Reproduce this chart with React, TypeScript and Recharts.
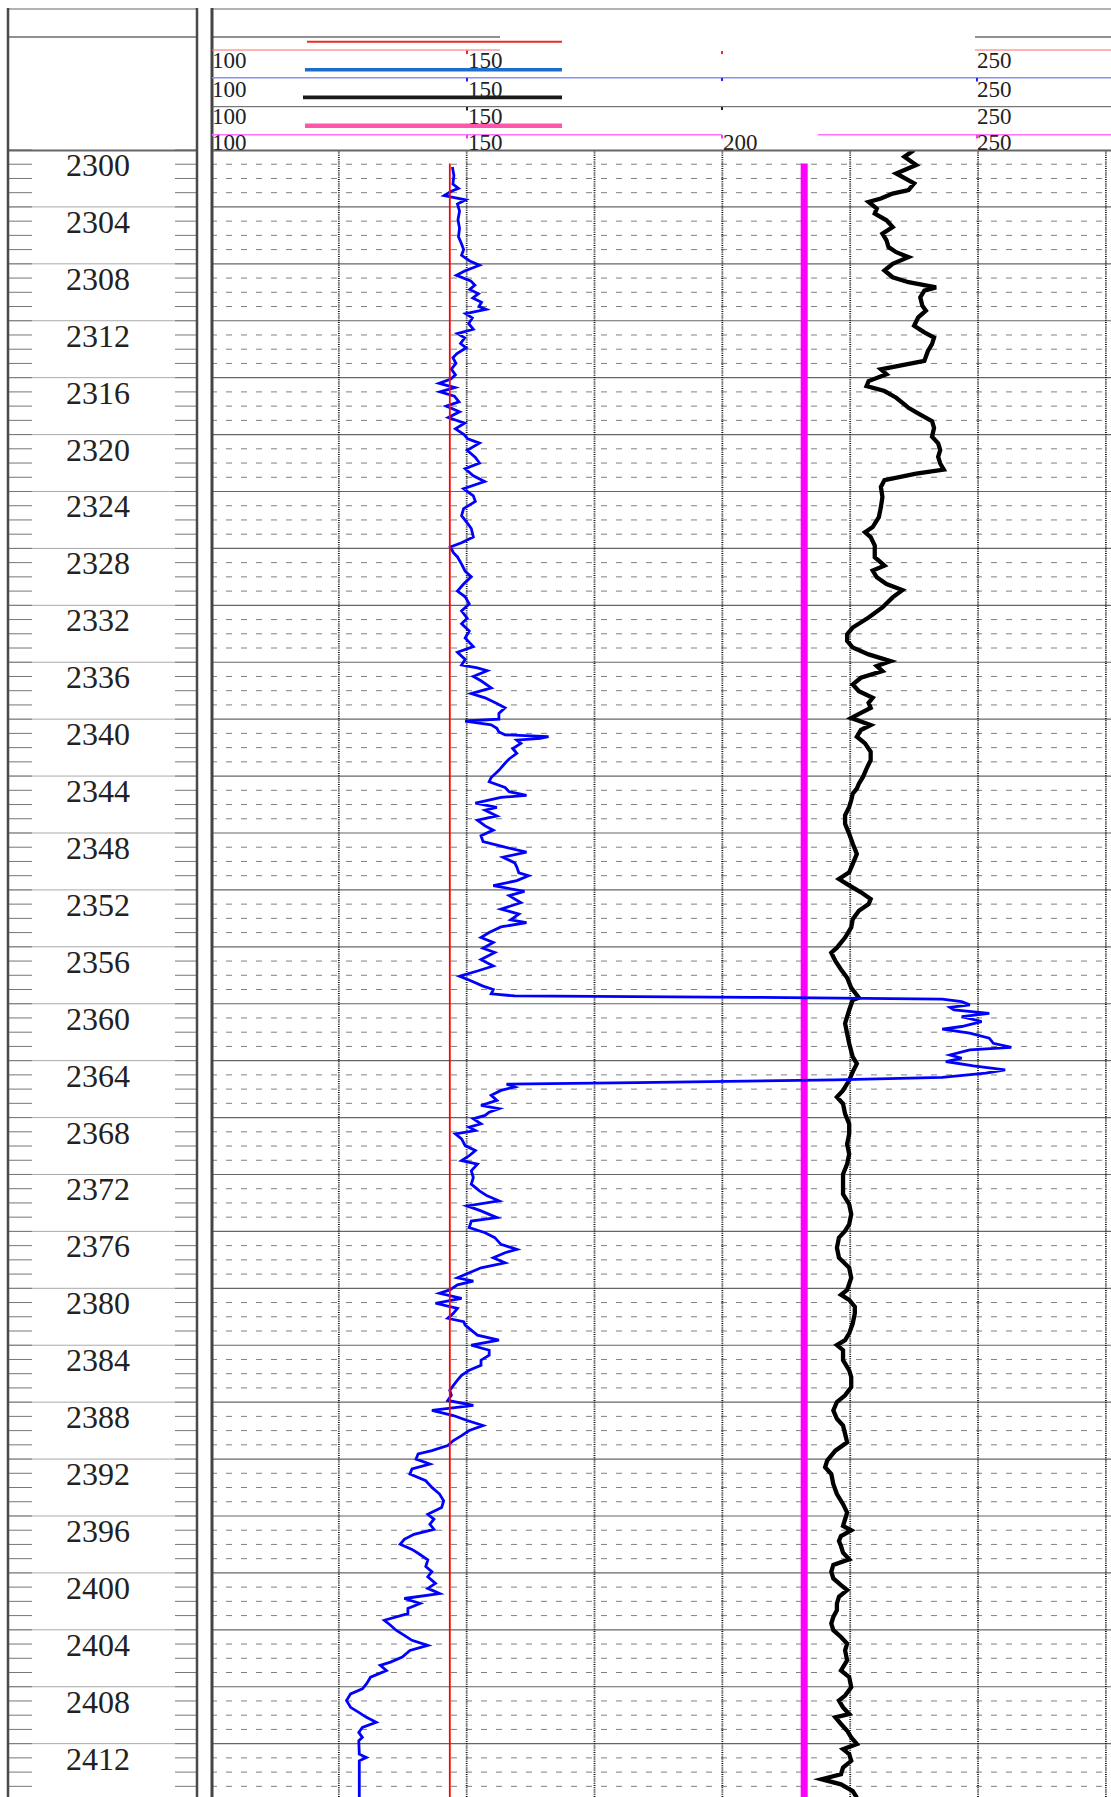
import { LineChart, Line, XAxis, YAxis, ReferenceLine } from 'recharts';

const TOP_DEPTH = 2300;
const BASE_DEPTH = 2415.75;
const SCALE_MIN = 100;
const SCALE_MAX = 276;

const DEPTH_LABELS = [2300, 2304, 2308, 2312, 2316, 2320, 2324, 2328, 2332, 2336, 2340, 2344, 2348, 2352, 2356, 2360, 2364, 2368, 2372, 2376, 2380, 2384, 2388, 2392, 2396, 2400, 2404, 2408, 2412];
const UNIT_DEPTHS = Array.from({ length: 116 }, (_, i) => TOP_DEPTH + i);
const VALUE_GRID = [125, 150, 175, 200, 225, 250, 275];

// header scale labels, one row per curve
const SCALE_ROWS = [
  ['100', '150', '250'],
  ['100', '150', '250'],
  ['100', '150', '250'],
  ['100', '150', '200', '250'],
];

// [depth, value]
const RED_CURVE: [number, number][] = [[2300.94, 146.7], [2415.8, 146.7]];
const PINK_CURVE: [number, number][] = [[2300.94, 216.0], [2415.8, 216.0]];

const BLUE_CURVE: [number, number][] = [
  [2301.2,147.2],[2301.8,147.5],[2302.4,147.3],[2302.7,148.4],[2302.9,147.0],[2303.2,145.6],[2303.5,149.8],[2303.8,148.2],[2304.3,148.6],[2304.9,148.3],
  [2305.5,148.6],[2306.1,148.4],[2306.6,149.0],[2307.0,149.4],[2307.4,149.0],[2307.8,150.6],[2308.1,152.5],[2308.5,149.6],[2308.8,148.0],[2309.2,150.8],
  [2309.5,151.6],[2309.8,150.6],[2310.1,152.3],[2310.4,151.2],[2310.7,152.9],[2311.0,152.4],[2311.2,153.8],[2311.5,149.8],[2311.8,151.1],[2312.2,150.4],
  [2312.6,151.3],[2312.9,148.2],[2313.2,149.6],[2313.6,148.8],[2313.9,149.9],[2314.3,148.1],[2314.6,147.3],[2315.0,147.9],[2315.4,147.0],[2315.8,147.8],
  [2316.1,146.9],[2316.4,144.6],[2316.7,147.7],[2317.0,144.8],[2317.3,147.6],[2317.7,148.5],[2318.0,146.0],[2318.4,148.6],[2318.8,146.4],[2319.2,149.6],
  [2319.6,147.8],[2320.0,149.5],[2320.3,150.2],[2320.6,152.5],[2321.1,150.1],[2321.6,151.7],[2322.0,152.5],[2322.4,149.7],[2322.9,151.3],[2323.3,153.5],
  [2323.8,149.4],[2324.3,151.3],[2324.7,151.7],[2325.2,149.4],[2325.7,149.0],[2326.2,150.1],[2326.6,150.9],[2327.2,151.3],[2327.6,149.0],[2327.9,146.8],
  [2328.3,147.4],[2328.6,148.2],[2329.1,149.0],[2329.6,149.7],[2330.0,150.9],[2330.5,149.4],[2331.0,148.2],[2331.4,149.7],[2331.9,150.5],[2332.4,149.0],
  [2332.9,150.1],[2333.3,149.0],[2333.8,150.5],[2334.3,149.7],[2334.9,151.3],[2335.3,148.2],[2335.8,149.7],[2336.2,149.0],[2336.4,152.1],[2336.6,154.0],
  [2337.0,151.3],[2337.3,152.8],[2337.8,154.8],[2338.2,150.9],[2338.5,153.6],[2338.9,155.9],[2339.2,157.5],[2339.6,156.3],[2340.0,156.3],[2340.13,149.7],
  [2340.3,152.8],[2340.4,154.8],[2340.64,155.9],[2340.9,156.3],[2341.1,157.5],[2341.23,166.0],[2341.35,164.4],[2341.47,159.8],[2341.7,160.6],[2342.06,159.0],
  [2342.4,159.8],[2342.8,158.3],[2343.1,157.5],[2343.6,156.3],[2344.1,154.8],[2344.4,154.4],[2344.8,157.5],[2345.1,158.3],[2345.35,161.7],[2345.5,156.7],
  [2345.9,151.7],[2346.2,155.9],[2346.4,153.6],[2346.8,155.9],[2347.1,152.1],[2347.5,153.6],[2347.8,155.2],[2348.2,152.8],[2348.6,153.2],[2349.0,157.5],
  [2349.35,161.7],[2349.7,157.1],[2350.1,159.4],[2350.4,159.8],[2350.8,160.2],[2351.0,162.1],[2351.35,159.8],[2351.7,155.2],[2352.1,161.3],[2352.4,158.3],
  [2352.9,160.6],[2353.35,156.7],[2353.7,160.2],[2354.1,158.6],[2354.3,161.7],[2354.6,156.7],[2355.0,154.4],[2355.35,152.8],[2355.7,155.2],[2356.1,153.2],
  [2356.4,155.5],[2356.9,152.8],[2357.35,155.2],[2357.7,152.1],[2358.06,148.6],[2358.4,150.9],[2358.76,153.2],[2359.0,155.2],[2359.3,154.8],[2359.45,159.4],
  [2359.55,206.0],[2359.68,243.0],[2359.85,246.8],[2360.08,248.4],[2360.25,244.5],[2360.43,245.3],[2360.67,252.2],[2360.9,246.8],[2361.1,249.0],[2361.25,250.7],
  [2361.6,246.8],[2361.79,243.0],[2362.07,248.4],[2362.42,252.2],[2362.78,253.0],[2363.06,256.5],[2363.24,248.4],[2363.6,244.5],[2363.83,246.8],[2364.06,243.7],
  [2364.37,249.1],[2364.65,255.3],[2364.88,251.5],[2365.17,243.0],[2365.35,222.1],[2365.54,183.3],[2365.65,157.8],[2365.85,159.4],[2366.09,156.7],[2366.44,154.8],
  [2366.79,155.9],[2367.15,152.8],[2367.38,156.3],[2367.62,154.4],[2367.85,153.6],[2368.09,151.3],[2368.44,152.8],[2368.68,150.5],[2368.91,151.7],[2369.15,147.8],
  [2369.5,149.0],[2369.97,149.7],[2370.32,151.7],[2370.68,150.5],[2371.03,149.0],[2371.27,152.1],[2371.74,150.9],[2372.21,151.3],[2372.68,150.9],[2373.15,152.5],
  [2373.5,154.0],[2373.85,156.3],[2374.21,150.1],[2374.56,152.8],[2375.03,155.9],[2375.27,150.9],[2375.74,150.5],[2376.09,153.6],[2376.44,155.5],[2376.91,156.7],
  [2377.26,159.8],[2377.5,157.5],[2377.85,155.2],[2378.21,157.5],[2378.56,152.8],[2378.91,150.5],[2379.26,148.2],[2379.5,151.3],[2379.76,148.2],[2380.11,146.7],
  [2380.35,144.7],[2380.7,149.0],[2381.05,143.9],[2381.41,148.2],[2381.76,147.4],[2382.11,146.3],[2382.35,149.4],[2382.58,149.7],[2382.94,150.9],[2383.29,152.1],
  [2383.64,156.3],[2384.0,150.9],[2384.35,154.4],[2384.7,154.4],[2385.05,152.8],[2385.41,152.8],[2385.76,150.5],[2386.11,149.0],[2386.46,148.2],[2386.82,147.4],
  [2387.17,146.7],[2387.52,147.0],[2387.88,146.3],[2388.23,151.3],[2388.58,143.2],[2388.94,147.4],[2389.29,150.1],[2389.64,153.2],[2389.99,150.5],[2390.35,149.0],
  [2390.7,147.4],[2391.05,146.3],[2391.41,143.2],[2391.64,140.5],[2392.0,140.1],[2392.35,142.8],[2392.7,139.3],[2393.05,138.9],[2393.52,142.0],[2393.99,143.2],
  [2394.46,144.7],[2394.94,145.5],[2395.41,145.1],[2395.88,142.4],[2396.23,143.6],[2396.58,142.8],[2396.94,143.6],[2397.29,139.7],[2397.64,137.8],[2397.99,137.0],
  [2398.35,139.3],[2398.62,140.5],[2399.09,142.4],[2399.56,142.0],[2399.92,143.2],[2400.27,142.4],[2400.74,143.9],[2401.09,142.4],[2401.45,144.7],[2401.8,137.8],
  [2402.15,140.9],[2402.5,138.5],[2402.86,138.5],[2403.33,133.9],[2403.68,135.1],[2404.03,136.2],[2404.39,137.8],[2404.74,139.3],[2405.09,142.4],[2405.45,138.9],
  [2405.92,137.4],[2406.27,135.1],[2406.5,133.1],[2406.86,134.3],[2407.33,131.2],[2407.8,130.4],[2408.15,129.6],[2408.5,127.3],[2408.97,126.5],[2409.45,127.3],
  [2409.8,128.9],[2410.15,130.4],[2410.5,132.3],[2410.86,129.6],[2411.21,128.9],[2411.56,129.6],[2411.8,128.9],[2412.74,129.0],[2412.97,130.4],[2413.21,129.0],
  [2415.8,129.0],
];

const BLACK_CURVE: [number, number][] = [
  [2300.0,237.5],[2300.47,235.6],[2301.06,237.9],[2301.65,234.0],[2302.35,237.5],[2302.82,236.4],[2303.06,233.3],[2303.41,231.0],[2303.65,228.6],[2304.12,230.2],
  [2304.47,229.8],[2304.94,232.1],[2305.41,233.3],[2305.88,231.3],[2306.35,232.1],[2306.82,232.5],[2307.18,234.0],[2307.53,236.4],[2308.0,233.3],[2308.47,231.7],
  [2308.94,233.3],[2309.29,236.4],[2309.65,241.8],[2309.88,239.5],[2310.35,238.7],[2310.94,239.1],[2311.29,239.8],[2311.76,238.3],[2312.35,237.5],[2312.82,239.5],
  [2313.18,241.4],[2313.65,241.0],[2314.12,240.2],[2314.82,239.5],[2315.41,231.0],[2315.76,232.1],[2316.24,228.6],[2316.59,228.2],[2316.94,231.7],[2317.41,234.0],
  [2317.88,235.6],[2318.12,236.4],[2318.59,238.7],[2319.06,241.0],[2319.53,241.4],[2320.15,241.0],[2320.62,242.2],[2321.09,242.6],[2321.56,242.2],[2322.03,242.6],
  [2322.46,243.3],[2322.74,237.9],[2323.21,231.7],[2323.68,231.0],[2324.39,231.3],[2325.09,231.0],[2325.8,230.6],[2326.5,229.4],[2326.86,227.9],[2327.21,229.0],
  [2327.8,229.8],[2328.62,229.8],[2329.21,231.7],[2329.56,229.4],[2330.03,230.2],[2330.5,232.1],[2330.93,235.2],[2331.44,233.3],[2332.15,231.3],[2332.86,228.6],
  [2333.56,225.5],[2334.03,224.4],[2334.5,224.4],[2334.97,225.5],[2335.45,228.6],[2335.92,232.9],[2336.27,230.2],[2336.62,231.3],[2337.09,227.1],[2337.56,225.5],
  [2338.03,226.7],[2338.5,229.4],[2338.86,228.6],[2339.21,229.0],[2339.56,227.1],[2339.92,225.2],[2340.41,229.0],[2340.76,227.1],[2341.23,226.3],[2341.7,227.9],
  [2342.29,229.0],[2342.88,229.0],[2343.47,228.2],[2344.06,227.5],[2344.53,226.7],[2344.88,226.3],[2345.23,225.5],[2345.7,225.2],[2346.17,224.8],[2346.76,224.0],
  [2347.35,224.0],[2348.06,224.8],[2348.76,225.5],[2349.47,226.3],[2350.17,225.5],[2350.76,224.8],[2351.23,222.8],[2351.59,224.4],[2352.17,227.1],[2352.64,229.0],
  [2352.99,228.6],[2353.47,226.7],[2354.06,225.5],[2354.64,225.2],[2355.35,224.0],[2356.06,222.4],[2356.41,221.3],[2357.0,222.1],[2357.59,223.2],[2358.17,224.4],
  [2358.88,225.2],[2359.58,226.7],[2359.74,225.5],[2360.44,224.8],[2361.38,224.0],[2362.09,224.4],[2362.79,224.8],[2363.74,225.5],[2364.21,226.3],[2364.79,225.5],
  [2365.38,224.8],[2366.09,223.6],[2366.56,222.4],[2367.03,223.6],[2367.74,224.0],[2368.44,224.8],[2369.15,224.8],[2369.85,224.4],[2370.56,224.8],[2371.27,224.4],
  [2371.97,223.6],[2372.68,223.6],[2373.38,223.6],[2374.09,224.8],[2374.79,225.2],[2375.5,224.8],[2375.97,224.0],[2376.44,222.8],[2377.15,222.4],[2377.85,222.8],
  [2378.56,224.8],[2379.26,225.2],[2380.11,224.4],[2380.46,223.2],[2380.82,224.8],[2381.29,225.9],[2381.76,225.9],[2382.46,225.5],[2383.17,224.8],[2383.64,224.0],
  [2383.99,222.4],[2384.35,223.6],[2385.05,223.6],[2385.76,224.8],[2386.23,225.2],[2386.94,225.2],[2387.52,224.0],[2387.99,222.4],[2388.58,221.7],[2389.17,222.4],
  [2389.64,223.6],[2390.23,224.0],[2390.82,224.4],[2391.41,222.1],[2392.11,220.5],[2392.58,220.1],[2393.05,221.3],[2393.76,221.7],[2394.46,222.4],[2395.17,223.6],
  [2395.76,224.4],[2396.23,224.0],[2396.7,223.6],[2397.01,225.2],[2397.41,223.2],[2397.76,222.8],[2398.11,223.2],[2398.58,223.6],[2399.05,224.8],[2399.44,221.7],
  [2399.92,221.3],[2400.39,221.7],[2400.86,223.2],[2401.21,224.4],[2401.68,222.8],[2402.15,222.4],[2402.62,222.4],[2403.09,221.7],[2403.56,221.3],[2404.03,221.7],
  [2404.5,223.2],[2404.97,224.4],[2405.45,224.0],[2406.15,224.4],[2406.86,223.2],[2407.33,224.8],[2408.03,225.2],[2408.62,224.0],[2408.97,222.8],[2409.45,223.6],
  [2409.92,224.8],[2410.15,222.1],[2410.62,223.2],[2411.09,224.4],[2411.56,225.2],[2412.03,226.3],[2412.39,223.6],[2412.74,224.8],[2413.21,225.2],[2413.68,223.6],
  [2414.15,223.2],[2414.5,219.4],[2414.86,223.2],[2415.33,225.5],[2415.8,226.3],
];

const toRows = (pts: [number, number][]) => pts.map(([d, v]) => ({ d, v }));

const FONT = '"Liberation Serif", "Times New Roman", serif';

function DepthTick(props: any) {
  const { y, payload } = props;
  const d = payload.value as number;
  const major = DEPTH_LABELS.includes(d);
  return (
    <g>
      {major && d !== TOP_DEPTH && <line x1={9} x2={196} y1={y} y2={y} stroke="#aaa" strokeWidth={1} />}
      <line x1={9} x2={32} y1={y} y2={y} stroke="#777" strokeWidth={1} />
      <line x1={175} x2={196} y1={y} y2={y} stroke="#777" strokeWidth={1} />
      {major && (
        <text x={98} y={y + 26} textAnchor="middle" fontSize={32} fontFamily={FONT} fill="#222">
          {d}
        </text>
      )}
    </g>
  );
}

// x position of a header scale label
const LABEL_X: Record<string, number> = { '100': 212, '150': 468, '200': 723, '250': 977 };
const ROW_BASELINE = [68, 96.5, 123.5, 150];

function Header() {
  return (
    <svg width={1111} height={1797} style={{ position: 'absolute', left: 0, top: 0, pointerEvents: 'none' }}>
      {/* frame */}
      <line x1={8} x2={197} y1={9} y2={9} stroke="#999" strokeWidth={1.5} />
      <line x1={212} x2={1111} y1={9} y2={9} stroke="#999" strokeWidth={1.5} />
      <line x1={8} x2={197} y1={37} y2={37} stroke="#222" strokeWidth={1} />
      <line x1={212} x2={500} y1={37} y2={37} stroke="#222" strokeWidth={1} />
      <line x1={975} x2={1111} y1={37} y2={37} stroke="#222" strokeWidth={1} />
      <line x1={8} x2={197} y1={150.5} y2={150.5} stroke="#666" strokeWidth={2} />
      <line x1={212} x2={1111} y1={150.5} y2={150.5} stroke="#666" strokeWidth={2} />
      <line x1={8} x2={8} y1={8} y2={1797} stroke="#4a4a4a" strokeWidth={2.5} />
      <line x1={197} x2={197} y1={8} y2={1797} stroke="#4a4a4a" strokeWidth={2.5} />
      <line x1={212} x2={212} y1={8} y2={1797} stroke="#444" strokeWidth={3} />

      {/* legend samples */}
      <line x1={307} x2={562} y1={41.7} y2={41.7} stroke="#e5321f" strokeWidth={2} />
      <line x1={305} x2={562} y1={69.7} y2={69.7} stroke="#1f6cd0" strokeWidth={3.5} />
      <line x1={303} x2={562} y1={97.3} y2={97.3} stroke="#1a1a1a" strokeWidth={3.7} />
      <line x1={305} x2={562} y1={125.7} y2={125.7} stroke="#ff55aa" strokeWidth={4.5} />

      {/* scale rows */}
      <line x1={212} x2={500} y1={50} y2={50} stroke="#ff6a6a" strokeWidth={1} />
      <line x1={975} x2={1111} y1={50} y2={50} stroke="#ff6a6a" strokeWidth={1} />
      <line x1={212} x2={1111} y1={77.7} y2={77.7} stroke="#8c8cff" strokeWidth={1.5} />
      <line x1={212} x2={1111} y1={106.7} y2={106.7} stroke="#555" strokeWidth={1} />
      <line x1={212} x2={722} y1={134.7} y2={134.7} stroke="#ff70ff" strokeWidth={1.5} />
      <line x1={818} x2={1111} y1={134.7} y2={134.7} stroke="#ff70ff" strokeWidth={1.5} />

      <rect x={466} y={50.5} width={2} height={3.5} fill="#f22" />
      <rect x={721} y={51} width={2} height={3} fill="#f22" />
      <rect x={466} y={78} width={2} height={3.5} fill="#22f" />
      <rect x={721} y={78} width={2} height={3} fill="#22f" />
      <rect x={976} y={78} width={2} height={3.5} fill="#22f" />
      <rect x={466} y={107} width={2} height={3.5} fill="#222" />
      <rect x={721} y={107} width={2} height={3} fill="#222" />
      <rect x={466} y={135} width={2} height={3.5} fill="#f3f" />
      <rect x={721} y={135} width={2} height={3.5} fill="#f3f" />
      <rect x={976} y={135} width={2} height={3.5} fill="#f3f" />

      {SCALE_ROWS.map((row, r) =>
        row.map((lab) => (
          <text key={`${r}-${lab}`} x={LABEL_X[lab]} y={ROW_BASELINE[r]} fontSize={23} fontFamily={FONT} fill="#222">
            {lab}
          </text>
        ))
      )}
    </svg>
  );
}

export default function App() {
  return (
    <div style={{ position: 'absolute', left: 0, top: 0, width: 1111, height: 1797, background: '#fff', overflow: 'hidden' }}>
      <LineChart
        width={1111}
        height={1797}
        layout="vertical"
        margin={{ top: 150, right: 0, bottom: 0, left: 0 }}
      >
        <XAxis type="number" dataKey="v" domain={[SCALE_MIN, SCALE_MAX]} hide allowDataOverflow />
        <YAxis
          type="number"
          dataKey="d"
          domain={[TOP_DEPTH, BASE_DEPTH]}
          allowDataOverflow
          width={211}
          ticks={UNIT_DEPTHS}
          interval={0}
          axisLine={false}
          tickLine={false}
          tick={(p: any) => <DepthTick {...p} />}
        />
        {UNIT_DEPTHS.filter((d) => !DEPTH_LABELS.includes(d)).map((d) => (
          <ReferenceLine key={`m${d}`} y={d} stroke="#808080" strokeWidth={1} strokeDasharray="6 9" />
        ))}
        {DEPTH_LABELS.filter((d) => d !== TOP_DEPTH).map((d) => (
          <ReferenceLine key={`M${d}`} y={d} stroke="#666" strokeWidth={1.2} />
        ))}
        {VALUE_GRID.map((v) => (
          <ReferenceLine key={`v${v}`} x={v} stroke="#111" strokeWidth={1.8} strokeDasharray="1 1.2" />
        ))}
        <Line data={toRows(PINK_CURVE)} dataKey="v" stroke="#ff00ff" strokeWidth={7} dot={false} isAnimationActive={false} />
        <Line data={toRows(BLACK_CURVE)} dataKey="v" stroke="#000" strokeWidth={4.3} dot={false} isAnimationActive={false} />
        <Line data={toRows(BLUE_CURVE)} dataKey="v" stroke="#0000ff" strokeWidth={2.8} dot={false} isAnimationActive={false} />
        <Line data={toRows(RED_CURVE)} dataKey="v" stroke="#ff0000" strokeWidth={1.8} dot={false} isAnimationActive={false} />
      </LineChart>
      <Header />
    </div>
  );
}
